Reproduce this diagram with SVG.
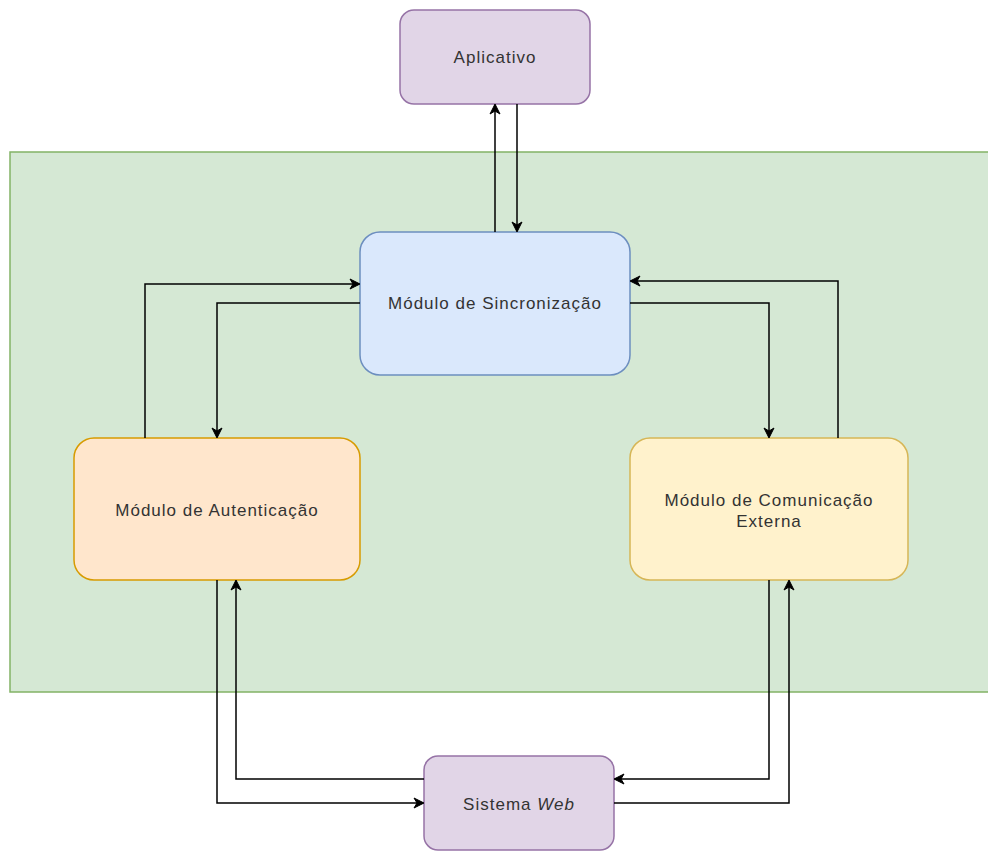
<svg xmlns="http://www.w3.org/2000/svg" width="988" height="851" viewBox="0 0 988 851">
<style>
  .lbl { font-family: "Liberation Sans", Arial, sans-serif; font-size: 17px; letter-spacing: 1px; fill: #333333; text-anchor: middle; }
  .edge { fill: none; stroke: #000000; stroke-width: 1.5; }
  .purple { fill: #e1d5e7; stroke: #9673a6; stroke-width: 1.5; }
  .blue { fill: #dae8fc; stroke: #6c8ebf; stroke-width: 1.5; }
  .orange { fill: #ffe6cc; stroke: #d79b00; stroke-width: 1.5; }
  .yellow { fill: #fff2cc; stroke: #d6b656; stroke-width: 1.5; }
  .green { fill: #d5e8d4; stroke: #82b366; stroke-width: 1.5; }
</style>
<defs>
  <marker id="arr" viewBox="0 0 10 10" refX="9" refY="5" markerWidth="10" markerHeight="10" markerUnits="userSpaceOnUse" orient="auto" overflow="visible">
    <path d="M0,0 L10,5 L0,10 L3,5 Z" fill="#000000" stroke="#000000" stroke-width="1"/>
  </marker>
</defs>
<rect width="988" height="851" fill="#ffffff"/>
<g id="container">
  <rect class="green" x="10" y="152" width="990" height="540"/>
</g>
<g id="aplicativo">
  <rect class="purple" x="400" y="10" width="190" height="94" rx="14" ry="14"/>
  <text class="lbl" x="495" y="63">Aplicativo</text>
</g>
<g id="sincronizacao">
  <rect class="blue" x="360" y="232" width="270" height="143" rx="20" ry="20"/>
  <text class="lbl" x="495" y="309">Módulo de Sincronização</text>
</g>
<g id="autenticacao">
  <rect class="orange" x="74" y="438" width="286" height="142" rx="20" ry="20"/>
  <text class="lbl" x="217" y="516">Módulo de Autenticação</text>
</g>
<g id="comunicacao">
  <rect class="yellow" x="630" y="438" width="278" height="142" rx="20" ry="20"/>
  <text class="lbl" x="769" y="506">Módulo de Comunicação</text>
  <text class="lbl" x="769" y="527">Externa</text>
</g>
<g id="sistemaweb">
  <rect class="purple" x="424" y="756" width="190" height="94" rx="14" ry="14"/>
  <text class="lbl" x="519" y="810">Sistema <tspan font-style="italic">Web</tspan></text>
</g>
<g id="connectors">
  <path class="edge" d="M495,232 L495,105" marker-end="url(#arr)"/>
  <path class="edge" d="M517,104 L517,231" marker-end="url(#arr)"/>
  <path class="edge" d="M145,438 L145,284 L359,284" marker-end="url(#arr)"/>
  <path class="edge" d="M360,303 L217,303 L217,437" marker-end="url(#arr)"/>
  <path class="edge" d="M838,438 L838,281 L631,281" marker-end="url(#arr)"/>
  <path class="edge" d="M630,303 L769,303 L769,437" marker-end="url(#arr)"/>
  <path class="edge" d="M217,580 L217,803 L423,803" marker-end="url(#arr)"/>
  <path class="edge" d="M424,779 L236,779 L236,581" marker-end="url(#arr)"/>
  <path class="edge" d="M769,580 L769,779 L615,779" marker-end="url(#arr)"/>
  <path class="edge" d="M614,803 L789,803 L789,581" marker-end="url(#arr)"/>
</g>
</svg>
